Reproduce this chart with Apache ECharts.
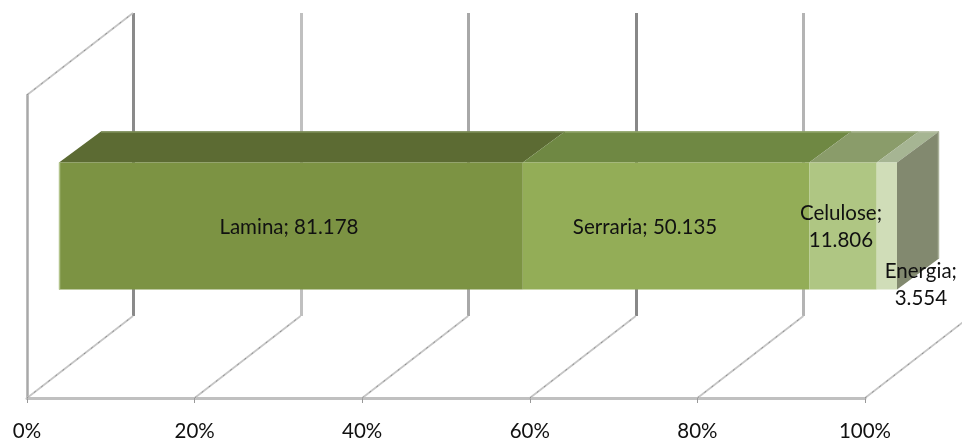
<!DOCTYPE html>
<html>
<head>
<meta charset="utf-8">
<style>html,body{margin:0;padding:0;background:#fff}#chart{width:962px;height:442px}</style>
<script src="https://cdn.jsdelivr.net/npm/echarts@6/dist/echarts.min.js"></script>
</head>
<body>
<div id="chart"></div>
<script>
// Wood volume by destination, shown as a single 100% stacked bar with a 3D look.
const segmentNames = ['Lamina', 'Serraria', 'Celulose', 'Energia'];
const segmentValues = [81.178, 50.135, 11.806, 3.554];
const tickValues = [0, 20, 40, 60, 80, 100];

// Face colours per segment.
const frontColors = ['#7c9343', '#93ad57', '#afc683', '#d0ddb8'];
const topColors = ['#5c6b33', '#6f8843', '#8a9c6a', '#a6b593'];
const topEdgeColors = ['#7e8f5a', '#8fa468', '#a5b28c', '#b4bea2'];
const sideColor = '#82896f';
const sideEdgeColor = '#aab19a';
const frontEdgeColor = '#b3c48c';
const backLineColors = ['#8a8a8a', '#c0c0c0', '#a8a8a8', '#888888', '#b4b4b4', '#c0c0c0'];

// Projection offsets of the fake depth, in pixels.
const wallDepth = [106, -82];
const barShift = [32, -20.5];
const barDepth = [42, -31];
const barHeight = 127;
// Label nudges relative to the centre of each front face.
const labelNudge = [[-2, 1.5], [-21, 1.5], [-2, 1], [34, 59]];

const total = segmentValues.reduce((a, b) => a + b, 0);
let running = 0;
const segmentRows = segmentValues.map((v, i) => {
  const from = running / total * 100;
  running += v;
  return [from, running / total * 100, i];
});

function renderSegment(params, api) {
  const i = api.value(2);
  const a = api.coord([api.value(0), 0]);
  const b = api.coord([api.value(1), 0]);
  const cy = a[1] + barShift[1];
  const x0 = a[0] + barShift[0];
  const x1 = b[0] + barShift[0];
  const t = cy - barHeight / 2;
  const u = cy + barHeight / 2;
  const backY = t + barDepth[1];
  const children = [
    { type: 'polygon', shape: { points: [[x0, t], [x1, t], [x1 + barDepth[0], backY], [x0 + barDepth[0], backY]] },
      style: { fill: topColors[i] } },
    { type: 'line', shape: { x1: x0 + barDepth[0], y1: backY + 0.5, x2: x1 + barDepth[0], y2: backY + 0.5 },
      style: { stroke: topEdgeColors[i], lineWidth: 1.5 } },
    { type: 'rect', shape: { x: x0, y: t, width: x1 - x0, height: barHeight }, style: { fill: frontColors[i] } },
    { type: 'text', z2: 50, style: {
        text: segmentNames[i] + ';' + (i > 1 ? '\n' : ' ') + segmentValues[i].toFixed(3),
        x: (x0 + x1) / 2 + labelNudge[i][0], y: cy + labelNudge[i][1],
        align: 'center', verticalAlign: 'middle', fontFamily: 'Lato', fontSize: 20.5, lineHeight: 27, fill: '#111' } }
  ];
  if (i === 0) {
    children.push({ type: 'line', shape: { x1: x0 + 0.5, y1: t, x2: x0 + 0.5, y2: u },
      style: { stroke: frontEdgeColor, lineWidth: 1.5 } });
  }
  if (i === segmentValues.length - 1) {
    const xb = x1 + barDepth[0];
    children.push({ type: 'polygon', shape: { points: [[x1, t], [xb, backY], [xb, u + barDepth[1]], [x1, u]] },
      style: { fill: sideColor } });
    children.push({ type: 'line', shape: { x1: xb - 0.5, y1: backY, x2: xb - 0.5, y2: u + barDepth[1] },
      style: { stroke: sideEdgeColor, lineWidth: 1.5 } });
  }
  return { type: 'group', children };
}

// Vertical gridlines drawn on the rear wall.
function renderBackLine(params, api) {
  const i = params.dataIndex;
  const p = api.coord([api.value(0), 0]);
  const cs = params.coordSys;
  const x = Math.round(p[0] + wallDepth[0]) + 0.5;
  return { type: 'line', shape: { x1: x, y1: cs.y + wallDepth[1], x2: x, y2: cs.y + cs.height + wallDepth[1] },
    style: { stroke: backLineColors[i], lineWidth: 3 } };
}

function diagonal(x, y) {
  const shape = { x1: x, y1: y, x2: x + wallDepth[0], y2: y + wallDepth[1] };
  return { type: 'group', children: [
    { type: 'line', shape, style: { stroke: '#c6c6c6', lineWidth: 1.8 } },
    { type: 'line', shape, style: { stroke: '#8e8e8e', lineWidth: 1, lineDash: [2, 7] } }
  ] };
}

// Floor diagonals running from each tick back to the wall.
function renderFloorLine(params, api) {
  const p = api.coord([api.value(0), 0]);
  return diagonal(p[0], params.coordSys.y + params.coordSys.height);
}

// Side wall diagonal at the top of the left edge.
function renderRoofLine(params, api) {
  const p = api.coord([api.value(0), 0]);
  return diagonal(p[0], params.coordSys.y);
}

const chart = echarts.init(document.getElementById('chart'), null, { renderer: 'canvas' });
chart.setOption({
  animation: false,
  backgroundColor: '#ffffff',
  grid: { left: 27, top: 95, width: 838, height: 311 },
  xAxis: { type: 'value', min: 0, max: 100, interval: 20,
    axisLine: { show: true, lineStyle: { color: '#c0c0c0', width: 3 } },
    axisTick: { show: true, length: 5, lineStyle: { color: '#999', width: 1 } },
    axisLabel: { formatter: '{value}%', margin: 23, fontFamily: 'Lato', fontSize: 20.5, color: '#111' },
    splitLine: { show: false } },
  yAxis: { type: 'category', data: ['Destino'],
    axisLine: { show: true, lineStyle: { color: '#a8a8a8', width: 2.5 } },
    axisTick: { show: false }, axisLabel: { show: false } },
  series: [
    { type: 'custom', z: 1, renderItem: renderBackLine,
      data: tickValues.map(v => [v]), encode: { x: 0 } },
    { type: 'custom', z: 3, renderItem: renderFloorLine,
      data: tickValues.map(v => [v]), encode: { x: 0 } },
    { type: 'custom', z: 3, renderItem: renderRoofLine,
      data: [[tickValues[0]]], encode: { x: 0 } },
    { type: 'custom', z: 5, renderItem: renderSegment,
      data: segmentRows, encode: { x: [0, 1] } }
  ]
});
</script>
</body>
</html>
